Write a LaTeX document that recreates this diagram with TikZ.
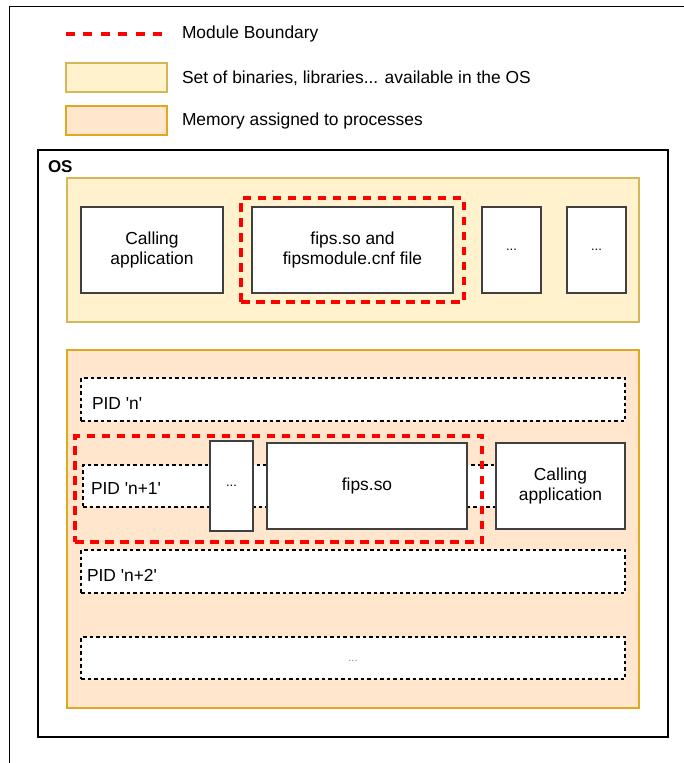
\documentclass[tikz,border=0pt]{standalone}
\usepackage{fontspec}
\setmainfont{Liberation Sans}
\definecolor{yfill}{HTML}{FFF2CC}
\definecolor{ystroke}{HTML}{D6B656}
\definecolor{ofill}{HTML}{FFE6CC}
\definecolor{ostroke}{HTML}{E0A820}
\definecolor{boxgray}{HTML}{404040}
\begin{document}
\begin{tikzpicture}[x=1pt,y=-1pt,
  lbl/.style={font=\fontsize{17.4}{20}\selectfont, inner sep=0, outer sep=0},
  solidbox/.style={draw=boxgray, line width=1.3pt, fill=white, inner sep=0, outer sep=0, align=center, anchor=north west, font=\fontsize{17.4}{20}\selectfont},
  dotbox/.style={solidbox, font=\fontsize{13}{15}\selectfont},
  pidbox/.style={draw=black, dash pattern=on 3.5pt off 3pt, line width=1.2pt, fill=white, inner sep=0, outer sep=0, anchor=north west},
  redline/.style={draw=red, dash pattern=on 8.5pt off 6.5pt, line width=3.2pt},
  modbound/.style={redline, inner sep=0, outer sep=0, anchor=north west},
  region/.style={line width=1.2pt, inner sep=0, outer sep=0, anchor=north west}
]
\useasboundingbox (0,0) rectangle (684,763);
\fill[white] (0,0) rectangle (684,763);
% outer frame (cropped)
\coordinate (fa) at (9,763);
\coordinate (fb) at (9,6);
\coordinate (fc) at (684,6);
\draw[line width=1pt] (fa) -- (fb) -- (fc);
% legend
\coordinate (lgA) at (66,34);
\coordinate (lgB) at (162,34);
\draw[redline, dash pattern=on 9pt off 8.4pt] (lgA) -- (lgB);
\node[region, fill=yfill, draw=ystroke, minimum width=101pt, minimum height=29pt] (legY) at (66,63) {};
\node[region, fill=ofill, draw=ostroke, minimum width=101pt, minimum height=29pt] (legO) at (66,106) {};
\node[lbl, anchor=west] (tMB) at (182,34) {Module Boundary};
\node[lbl, anchor=west] (tY) at (182,78) {Set of binaries, libraries... available in the OS};
\node[lbl, anchor=west] (tO) at (182,121) {Memory assigned to processes};
% OS
\node[draw=black, line width=1.5pt, inner sep=0, outer sep=0, anchor=north west, minimum width=630pt, minimum height=587pt] (os) at (38,150) {};
\node[lbl, anchor=west, font=\fontsize{17}{20}\selectfont\bfseries] (osl) at (48,167) {OS};
% libraries region
\node[region, fill=yfill, draw=ystroke, minimum width=572pt, minimum height=144pt] (libs) at (67,178) {};
\node[solidbox, minimum width=142pt, minimum height=86pt] (app1) at (81,207) {Calling\\application};
\node[solidbox, minimum width=201pt, minimum height=86pt] (fipsfile) at (252,207) {fips.so and\\fipsmodule.cnf file};
\node[dotbox, minimum width=59pt, minimum height=86pt] (dots1) at (482,207) {...};
\node[dotbox, minimum width=59pt, minimum height=86pt] (dots2) at (567,207) {...};
\node[modbound, minimum width=223pt, minimum height=104pt] (mb1) at (241,198) {};
% memory region
\node[region, fill=ofill, draw=ostroke, minimum width=572pt, minimum height=358pt] (mem) at (67,350) {};
\node[pidbox, minimum width=544pt, minimum height=43pt] (pidn) at (81,378) {};
\node[lbl, anchor=west] (tpidn) at (92,404) {PID \textquotesingle n\textquotesingle};
\node[pidbox, minimum width=542pt, minimum height=42pt] (pidn1) at (83,465) {};
\node[lbl, anchor=west] (tpidn1) at (91,489) {PID \textquotesingle n+1\textquotesingle};
\node[dotbox, minimum width=43pt, minimum height=90pt] (dots3) at (210,441) {...};
\node[solidbox, minimum width=200pt, minimum height=86pt] (fipsso) at (267,443) {fips.so};
\node[solidbox, minimum width=129pt, minimum height=86pt] (app2) at (496,443) {Calling\\application};
\node[modbound, minimum width=407pt, minimum height=106pt] (mb2) at (75,436) {};
\node[pidbox, minimum width=544pt, minimum height=43pt] (pidn2) at (81,550) {};
\node[lbl, anchor=west] (tpidn2) at (87,575) {PID \textquotesingle n+2\textquotesingle};
\node[pidbox, minimum width=544pt, minimum height=42pt] (piddots) at (81,637) {};
\node[lbl, font=\fontsize{11}{13}\selectfont, text=gray] (tpiddots) at (353,661) {...};
\end{tikzpicture}
\end{document}
